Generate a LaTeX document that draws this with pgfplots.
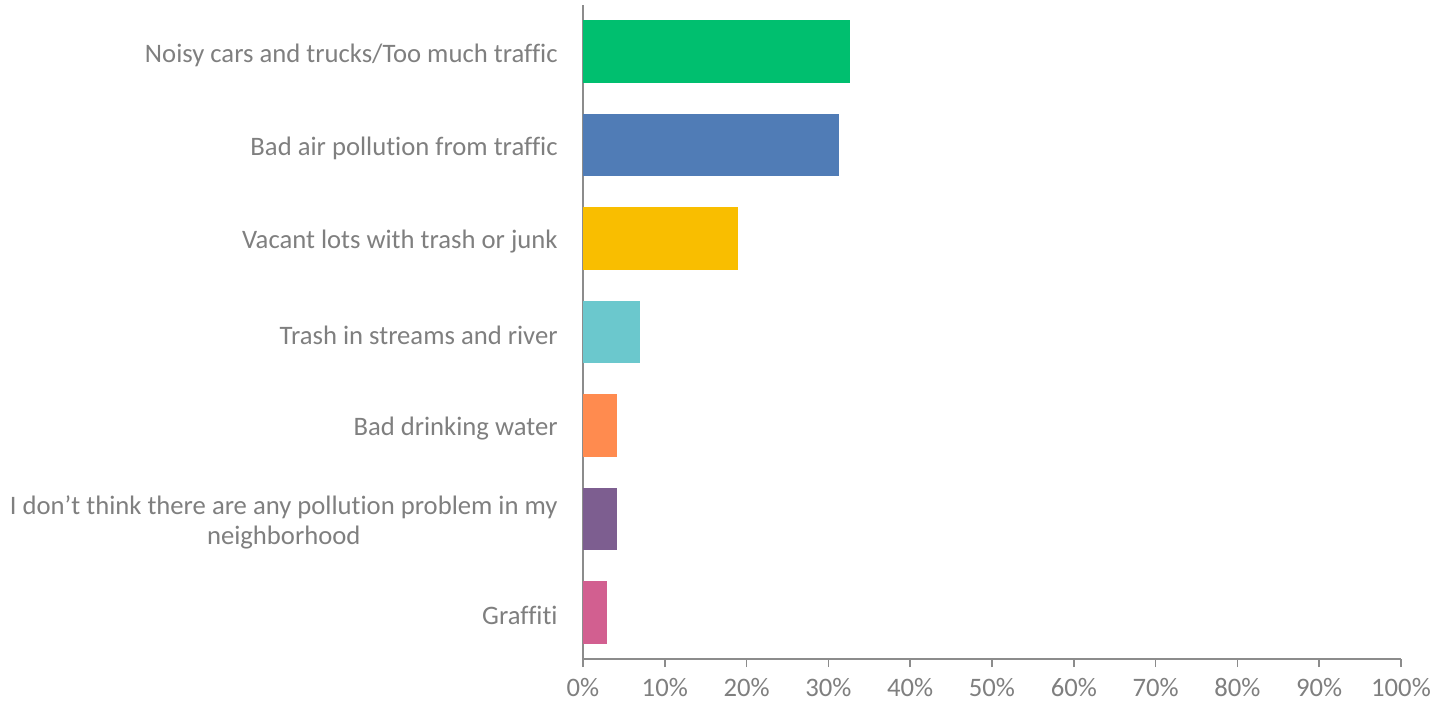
\documentclass[border=0pt]{standalone}
\usepackage{pgfplots}
\pgfplotsset{compat=1.18}
\usepackage{fontspec}
\setmainfont[Ligatures=NoCommon]{Carlito}

\definecolor{txtgray}{HTML}{7F7F7F}
\definecolor{axgray}{HTML}{8C8C8C}
\definecolor{cgreen}{HTML}{00BF6F}
\definecolor{cblue}{HTML}{507CB6}
\definecolor{cyellow}{HTML}{F9BE00}
\definecolor{cteal}{HTML}{6BC8CD}
\definecolor{corange}{HTML}{FF8B4F}
\definecolor{cpurple}{HTML}{7D5E90}
\definecolor{cpink}{HTML}{D25F90}

\begin{document}
\begin{tikzpicture}
\begin{axis}[
    name=ax,
    scale only axis,
    width=613.5pt, height=490.5pt,
    xbar, bar shift=0pt, bar width=0.67,
    xmin=0, xmax=100,
    ymin=-0.5, ymax=6.5,
    axis x line*=bottom, axis y line*=left,
    axis line style={axgray, line width=1.1pt},
    xtick={0,10,...,100},
    xticklabel={\pgfmathprintnumber{\tick}\%},
    ytick={0,...,6},
    yticklabels={Graffiti,
        {I don’t think there are any pollution problem in my\\neighborhood},
        Bad drinking water,
        Trash in streams and river,
        Vacant lots with trash or junk,
        Bad air pollution from traffic,
        Noisy cars and trucks/Too much traffic},
    y tick style={draw=none},
    minor ytick={-0.5,0.5,...,6.5},
    minor y tick style={axgray, line width=1.1pt},
    x tick style={axgray, line width=1.1pt},
    tick align=outside,
    major tick length=6pt, minor tick length=6pt,
    /pgf/number format/assume math mode=true,
    tick label style={font=\fontsize{20}{22.5}\selectfont, text=txtgray},
    yticklabel style={align=center, xshift=-9.5pt, yshift=-2.5pt},
    xticklabel style={yshift=-7.5pt, inner sep=1pt},
    clip=false,
]
\addplot[fill=cpink, draw=none] coordinates {(2.9,0)};
\addplot[fill=cpurple, draw=none] coordinates {(4.1,1)};
\addplot[fill=corange, draw=none] coordinates {(4.1,2)};
\addplot[fill=cteal, draw=none] coordinates {(7.0,3)};
\addplot[fill=cyellow, draw=none] coordinates {(19.0,4)};
\addplot[fill=cblue, draw=none] coordinates {(31.3,5)};
\addplot[fill=cgreen, draw=none] coordinates {(32.6,6)};
\end{axis}
\pgfresetboundingbox
\path (ax.south west) ++(-437.25pt,-35.25pt) rectangle ++(1080.75pt,529.5pt);
\end{tikzpicture}
\end{document}
